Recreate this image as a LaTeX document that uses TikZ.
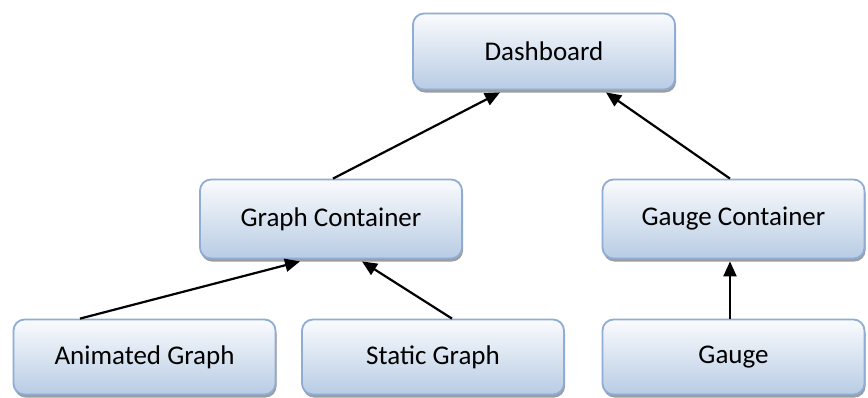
\documentclass[tikz,border=0pt]{standalone}
\usepackage{fontspec}
\setmainfont{Carlito}
\usetikzlibrary{shadows,arrows.meta}
\definecolor{boxborder}{RGB}{142,172,212}
\definecolor{boxbottom}{RGB}{184,204,228}
\definecolor{boxtop}{RGB}{250,251,253}
\begin{document}
\begin{tikzpicture}[x=1pt,y=-1pt,
  box/.style={draw=boxborder, line width=1.8pt, rounded corners=11pt,
    top color=boxtop, bottom color=boxbottom,
    minimum width=262pt, inner sep=0pt,
    font=\fontsize{27}{32}\selectfont,
    drop shadow={shadow xshift=1pt, shadow yshift=-3pt, fill=black!55, opacity=0.7}},
  conn/.style={line width=2.2pt, -{Triangle[length=15pt,width=13pt]}}]
\useasboundingbox (0,0) rectangle (868,397);
\node[box, minimum height=76pt] (dash) at (544,51.5) {Dashboard};
\node[box, minimum height=79pt] (gc) at (331,219) {Graph Container};
\node[box, minimum height=79pt] (gac) at (733.5,219) {Gauge Container};
\node[box, minimum height=75pt] (ag) at (144.5,357) {Animated Graph};
\node[box, minimum height=75pt] (sg) at (433,357) {Static Graph};
\node[box, minimum height=75pt] (g) at (733.5,357) {Gauge};
\draw[conn] ([xshift=2pt]gc.north) -- ([xshift=-44pt,yshift=-2pt]dash.south);
\draw[conn] ([xshift=-3.5pt]gac.north) -- ([xshift=62pt,yshift=-2pt]dash.south);
\draw[conn] ([xshift=-64.5pt]ag.north) -- ([xshift=-31pt,yshift=-2pt]gc.south);
\draw[conn] ([xshift=19pt]sg.north) -- ([xshift=31pt,yshift=-2pt]gc.south);
\draw[conn] ([xshift=-3.5pt]g.north) -- ([xshift=-3.5pt,yshift=-2pt]gac.south);
\end{tikzpicture}
\end{document}
